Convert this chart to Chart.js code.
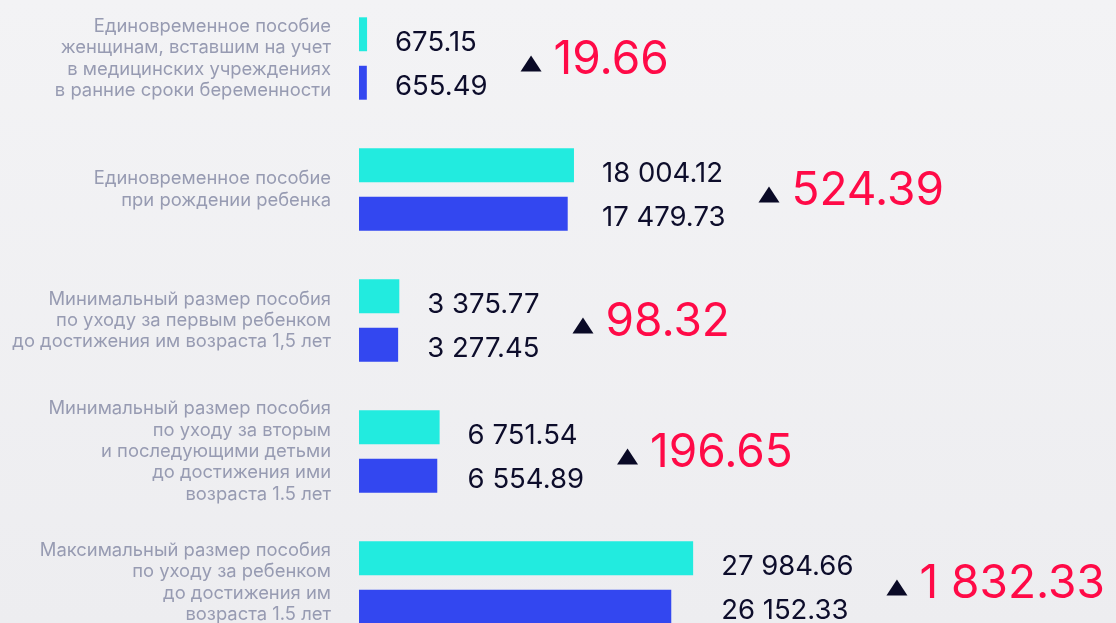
<!DOCTYPE html>
<html>
<head>
<meta charset="utf-8">
<script src="https://cdn.jsdelivr.net/npm/chart.js@4.4.0/dist/chart.umd.min.js"></script>
<style>
  html, body { margin: 0; padding: 0; width: 1116px; height: 623px; overflow: hidden; }
  body { background: linear-gradient(#f3f3f5, #ededf0); position: relative; }
  #wrap { position: absolute; left: 0; top: -7px; width: 1116px; height: 655px; }
</style>
</head>
<body>
<div id="wrap"><canvas id="barChart"></canvas></div>
<script>
// categories (line breaks as on the picture)
const categories = [
  ['Единовременное пособие', 'женщинам, вставшим на учет', 'в медицинских учреждениях', 'в ранние сроки беременности'],
  ['Единовременное пособие', 'при рождении ребенка'],
  ['Минимальный размер пособия', 'по уходу за первым ребенком', 'до достижения им возраста 1,5 лет'],
  ['Минимальный размер пособия', 'по уходу за вторым', 'и последующими детьми', 'до достижения ими', 'возраста 1.5 лет'],
  ['Максимальный размер пособия', 'по уходу за ребенком', 'до достижения им', 'возраста 1.5 лет']
];
const currentValues  = [675.15, 18004.12, 3375.77, 6751.54, 27984.66];
const previousValues = [655.49, 17479.73, 3277.45, 6554.89, 26152.33];
const deltas         = [19.66, 524.39, 98.32, 196.65, 1832.33];
const xMax = 63400;

const fmt = v => {
  const [int, dec] = v.toFixed(2).split('.');
  return int.replace(/\B(?=(\d{3})+(?!\d))/g, ' ') + '.' + dec;
};

// value labels + delta with triangle
const labelsPlugin = {
  id: 'valueLabels',
  afterDatasetsDraw(chart) {
    const ctx = chart.ctx;
    const a = chart.getDatasetMeta(0).data;
    const b = chart.getDatasetMeta(1).data;
    ctx.save();
    a.forEach((barA, i) => {
      const barB = b[i];
      const lx = Math.max(barA.x, barB.x) + 28;
      ctx.font = '400 27.5px Inter';
      ctx.fillStyle = '#0d0d2b';
      ctx.textAlign = 'left';
      ctx.textBaseline = 'middle';
      const t1 = fmt(currentValues[i]), t2 = fmt(previousValues[i]);
      ctx.fillText(t1, lx, barA.y + 8);
      ctx.fillText(t2, lx, barB.y + 4);
      const w = Math.max(ctx.measureText(t1).width, ctx.measureText(t2).width);
      const tx = lx + w + 33;
      const c = (barA.y + barB.y) / 2;
      ctx.fillStyle = '#0a0a26';
      ctx.beginPath();
      ctx.moveTo(tx, c + 13);
      ctx.lineTo(tx + 21, c + 13);
      ctx.lineTo(tx + 10.5, c - 3);
      ctx.closePath();
      ctx.fill();
      ctx.font = '400 46px Inter';
      ctx.fillStyle = '#ff0a47';
      ctx.textBaseline = 'alphabetic';
      ctx.fillText(fmt(deltas[i]), tx + 33, c + 15);
    });
    ctx.restore();
  }
};

new Chart(document.getElementById('barChart'), {
  type: 'bar',
  data: {
    labels: categories,
    datasets: [
      { label: 'current', data: currentValues, backgroundColor: '#22ebdf' },
      { label: 'previous', data: previousValues, backgroundColor: '#3347f0' }
    ]
  },
  options: {
    indexAxis: 'y',
    responsive: true,
    maintainAspectRatio: false,
    animation: false,
    categoryPercentage: 0.74,
    barPercentage: 0.70,
    layout: { padding: 0 },
    plugins: { legend: { display: false }, tooltip: { enabled: false } },
    scales: {
      x: { display: false, min: 0, max: xMax },
      y: {
        grid: { display: false, drawTicks: false },
        border: { display: false },
        afterFit(scale) {
          scale.width = 359;
          scale.paddingTop = 0;
          scale.paddingBottom = 0;
        },
        ticks: {
          padding: 28,
          color: '#979bb2',
          font: { family: 'Inter', size: 18.4, lineHeight: 1.16 }
        }
      }
    }
  },
  plugins: [labelsPlugin]
});
</script>
</body>
</html>
